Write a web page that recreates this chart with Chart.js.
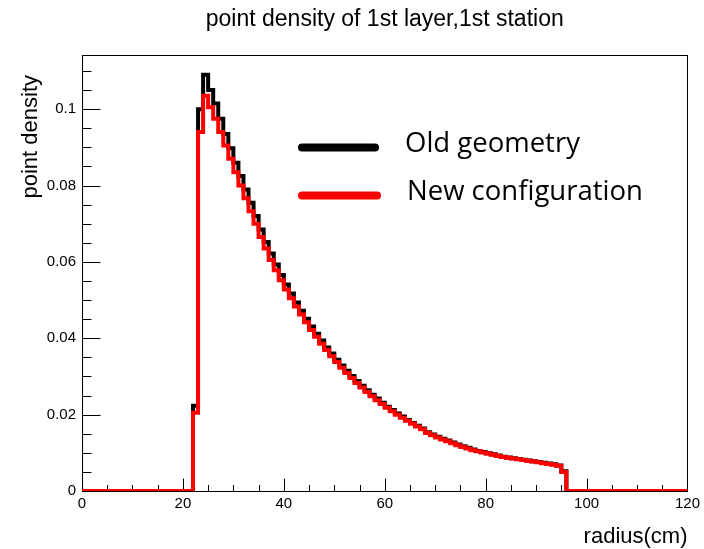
<!DOCTYPE html>
<html>
<head>
<meta charset="utf-8">
<script src="https://cdn.jsdelivr.net/npm/chart.js@4.4.1/dist/chart.umd.min.js"></script>
<style>body{margin:0;background:#fff}</style>
</head>
<body>
<canvas id="chart" width="704" height="549"></canvas>
<script>
const chartTitle = 'point density of 1st layer,1st station';
const xTitle = 'radius(cm)';
const yTitle = 'point density';
const seriesNames = ['Old geometry', 'New configuration'];
const xMin = 0, xMax = 120, binWidth = 1;
const firstBin = 22; // first non-empty bin, cm
const yMax = 0.1142;

// bin contents from 22 cm to 95 cm
const oldGeometry = [
  0.0223, 0.100, 0.109, 0.105, 0.1015, 0.0975, 0.0935, 0.0898, 0.086, 0.0825,
  0.079, 0.0755, 0.072, 0.0685, 0.0652, 0.0622, 0.0593, 0.0566, 0.0541, 0.0517,
  0.0494, 0.0472, 0.0451, 0.0431, 0.0412, 0.0394, 0.0376, 0.036, 0.0344, 0.0329,
  0.0315, 0.0301, 0.0288, 0.0276, 0.0264, 0.0252, 0.0242, 0.0231, 0.0221, 0.0212,
  0.0203, 0.0195, 0.0186, 0.0178, 0.0171, 0.0164, 0.0154, 0.0148, 0.0142, 0.0137,
  0.0132, 0.0127, 0.0122, 0.0117, 0.0113, 0.0109, 0.0105, 0.0102, 0.0099, 0.0096,
  0.0093, 0.009, 0.0088, 0.0086, 0.0084, 0.0082, 0.008, 0.0078, 0.0076, 0.0074,
  0.0072, 0.007, 0.0067, 0.0052
];
const newConfiguration = [
  0.0205, 0.094, 0.1035, 0.1005, 0.0975, 0.094, 0.0905, 0.087, 0.0835, 0.080,
  0.0767, 0.0733, 0.070, 0.0665, 0.0635, 0.0605, 0.0578, 0.0552, 0.0528, 0.0505,
  0.0483, 0.0462, 0.0442, 0.0422, 0.0404, 0.0386, 0.0369, 0.0353, 0.0338, 0.0323,
  0.0309, 0.0296, 0.0283, 0.0271, 0.0259, 0.0248, 0.0238, 0.0228, 0.0218, 0.0209,
  0.020, 0.0192, 0.0184, 0.0176, 0.0169, 0.0162, 0.0152, 0.0146, 0.014, 0.0135,
  0.013, 0.0125, 0.012, 0.0115, 0.0111, 0.0107, 0.0104, 0.0101, 0.0098, 0.0095,
  0.0092, 0.0089, 0.0087, 0.0085, 0.0083, 0.0081, 0.0079, 0.0077, 0.0075, 0.0073,
  0.0071, 0.0069, 0.0066, 0.005
];

// one point per bin low edge, closed at xMax
function toBins(values) {
  let pts = [];
  for (let x = xMin; x < xMax; x += binWidth) {
    let i = Math.round((x - firstBin) / binWidth);
    pts.push({x: x, y: (i >= 0 && i < values.length) ? values[i] : 0});
  }
  pts.push({x: xMax, y: 0});
  return pts;
}

const rootFont = '"Liberation Sans", Arial, sans-serif';

// ROOT-like frame with ticks pointing inwards
const framePlugin = {
  id: 'frame',
  beforeDatasetsDraw(chart) {
    const {ctx, chartArea: a, scales: {x, y}} = chart;
    ctx.save();
    ctx.strokeStyle = '#000';
    ctx.lineWidth = 1;
    const L = Math.round(a.left) + 0.5, R = Math.round(a.right) + 0.5;
    const T = Math.round(a.top) + 0.5, B = Math.round(a.bottom) + 0.5;
    ctx.strokeRect(L, T, R - L, B - T);
    ctx.beginPath();
    for (let v = xMin; v <= xMax + 1e-9; v += 5) {
      const px = Math.round(x.getPixelForValue(v)) + 0.5;
      const len = (v % 20 === 0) ? 13 : 6.5;
      ctx.moveTo(px, B); ctx.lineTo(px, B - len);
    }
    for (let k = 0; k * 0.005 <= yMax; k++) {
      const py = Math.round(y.getPixelForValue(k * 0.005)) + 0.5;
      const len = (k % 4 === 0) ? 18 : 9;
      ctx.moveTo(L, py); ctx.lineTo(L + len, py);
    }
    ctx.stroke();
    ctx.restore();
  },
  afterDraw(chart) {
    const {ctx, chartArea: a} = chart;
    ctx.save();
    ctx.fillStyle = '#000';
    ctx.font = '23px ' + rootFont;
    ctx.textAlign = 'center';
    ctx.textBaseline = 'alphabetic';
    ctx.fillText(chartTitle, (a.left + a.right) / 2, 26);

    ctx.font = '22px ' + rootFont;
    ctx.textAlign = 'right';
    ctx.fillText(xTitle, a.right, 543);

    ctx.translate(37, 75);
    ctx.rotate(-Math.PI / 2);
    ctx.fillText(yTitle, 0, 0);
    ctx.restore();

    // legend
    ctx.save();
    const rows = [{y: 147.5, x2: 375, ty: 152, tx: 405}, {y: 195.5, x2: 377, ty: 200, tx: 407}];
    chart.data.datasets.forEach((ds, i) => {
      const r = rows[i];
      ctx.strokeStyle = ds.borderColor;
      ctx.lineWidth = 8;
      ctx.lineCap = 'round';
      ctx.beginPath();
      ctx.moveTo(302, r.y); ctx.lineTo(r.x2, r.y);
      ctx.stroke();
      ctx.fillStyle = '#000';
      ctx.font = '27.5px "Open Sans", sans-serif';
      ctx.textAlign = 'left';
      ctx.fillText(ds.label, r.tx, r.ty);
    });
    ctx.restore();
  }
};

new Chart(document.getElementById('chart'), {
  type: 'line',
  data: {
    datasets: [
      {label: seriesNames[0], data: toBins(oldGeometry), borderColor: '#000', order: 2},
      {label: seriesNames[1], data: toBins(newConfiguration), borderColor: '#ff0000', order: 1}
    ]
  },
  options: {
    responsive: false,
    animation: false,
    layout: {padding: {top: 55, right: 16, left: 0, bottom: 0}},
    datasets: {
      line: {stepped: 'before', borderWidth: 4, pointRadius: 0, fill: false,
             borderJoinStyle: 'miter', borderCapStyle: 'butt'}
    },
    plugins: {legend: {display: false}, tooltip: {enabled: false}},
    scales: {
      x: {
        type: 'linear', min: xMin, max: xMax,
        grid: {display: false, drawTicks: false},
        border: {display: false},
        ticks: {stepSize: 20, padding: 4, color: '#000', font: {family: rootFont, size: 15}, maxRotation: 0},
        afterFit(s) { s.height = 58; }
      },
      y: {
        min: 0, max: yMax,
        grid: {display: false, drawTicks: false},
        border: {display: false},
        ticks: {stepSize: 0.02, padding: 6, color: '#000', font: {family: rootFont, size: 15},
                callback: v => String(+v.toFixed(3))},
        afterBuildTicks(s) {
          s.ticks = s.ticks.filter(t => Math.abs(t.value / 0.02 - Math.round(t.value / 0.02)) < 1e-6);
        },
        afterFit(s) { s.width = 82; }
      }
    }
  },
  plugins: [framePlugin]
});
</script>
</body>
</html>
